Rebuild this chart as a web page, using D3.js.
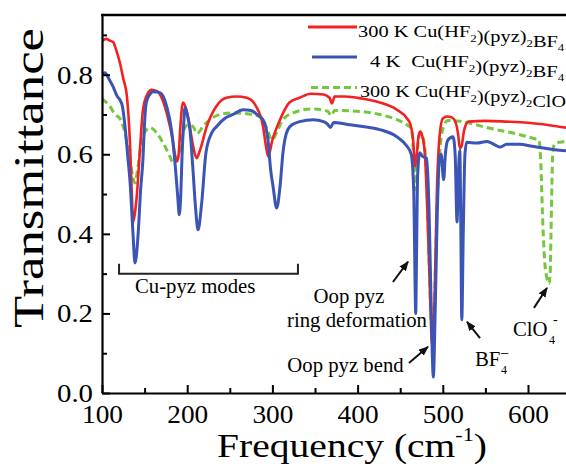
<!DOCTYPE html>
<html lang="en">
<head>
<meta charset="UTF-8">
<title>Far-IR transmittance of Cu(HF2)(pyz)2X</title>
<script src="https://cdn.jsdelivr.net/npm/d3@7/dist/d3.min.js"></script>
<style>
  body { margin: 0; background: #fff; }
  svg { display: block; }
  svg text { font-family: "Liberation Serif", "Times New Roman", Tinos, "Nimbus Roman", serif; }
</style>
</head>
<body>
<div id="chart"></div>
<script>
// spectra: [frequency cm-1, transmittance]
var red300BF4 = [[100,0.885],[105,0.89],[109,0.886],[113,0.882],[117,0.86],[121,0.83],[125,0.79],[129,0.75],[131,0.70],[133,0.62],[135,0.50],[136.5,0.43],[138.5,0.45],[141,0.50],[144.5,0.61],[148,0.71],[153,0.75],[158,0.762],[165,0.758],[171,0.737],[177,0.695],[183,0.636],[186,0.595],[188,0.582],[190,0.60],[192,0.67],[195,0.73],[199,0.712],[203,0.67],[207,0.62],[211,0.59],[215,0.61],[223,0.67],[234,0.72],[246,0.742],[258,0.745],[270,0.742],[281,0.72],[289,0.67],[292.5,0.62],[295,0.594],[300,0.636],[309,0.687],[320,0.73],[332,0.742],[345,0.752],[360,0.75],[367,0.742],[370,0.728],[373,0.745],[385,0.745],[405,0.74],[426,0.73],[446,0.712],[458,0.69],[462,0.675],[465,0.64],[467.5,0.57],[469.5,0.6],[471.5,0.645],[473.5,0.657],[476,0.645],[479,0.60],[482,0.45],[485,0.25],[487.5,0.12],[490.5,0.25],[493,0.5],[496,0.64],[500,0.69],[505,0.695],[511,0.692],[515,0.68],[518,0.65],[520,0.615],[522,0.62],[525,0.66],[530,0.682],[550,0.684],[575,0.682],[600,0.679],[625,0.673],[650,0.665]];

var blue4BF4 = [[100,0.80],[103.5,0.805],[108,0.79],[113,0.77],[118,0.745],[121,0.737],[124,0.72],[127,0.67],[130,0.60],[133,0.528],[136.4,0.40],[138.7,0.327],[141,0.36],[143,0.42],[145,0.50],[148,0.586],[150,0.68],[152,0.73],[156,0.75],[160,0.757],[168,0.755],[176,0.72],[182,0.654],[186,0.57],[189,0.49],[190.7,0.448],[192.5,0.5],[194,0.6],[196,0.68],[197.4,0.717],[200,0.70],[203.3,0.66],[206.8,0.56],[210,0.46],[212.7,0.41],[217,0.478],[222,0.604],[228.8,0.654],[234.6,0.67],[244,0.69],[253.8,0.70],[265.5,0.712],[275,0.71],[282,0.70],[289,0.687],[294.8,0.636],[298,0.56],[300.7,0.52],[305,0.465],[309,0.52],[312.4,0.604],[316,0.65],[320.7,0.67],[332,0.682],[348,0.687],[360,0.682],[365,0.675],[368,0.667],[372,0.68],[388,0.675],[406,0.67],[426,0.662],[446,0.644],[458,0.62],[463,0.60],[466,0.5],[467.3,0.3],[468.2,0.20],[469.2,0.35],[470.5,0.55],[473,0.604],[476,0.595],[481,0.59],[484,0.45],[486.5,0.2],[488.9,0.04],[491,0.2],[493.5,0.45],[496,0.59],[498,0.60],[501,0.536],[503,0.60],[506,0.636],[512,0.644],[514.5,0.60],[516.7,0.43],[518.5,0.56],[520,0.61],[521,0.45],[522.3,0.184],[524,0.4],[526,0.6],[528,0.63],[540,0.628],[552,0.632],[560,0.625],[567,0.618],[575,0.625],[590,0.625],[605,0.62],[620,0.615],[637,0.61],[650,0.608]];

var green300ClO4 = [[100,0.74],[101.5,0.737],[109.4,0.72],[115.3,0.70],[121,0.69],[124,0.675],[127,0.654],[130,0.62],[132.9,0.586],[136.4,0.54],[138.7,0.528],[142.3,0.57],[146.6,0.636],[152.5,0.662],[156.3,0.667],[164.2,0.654],[171.6,0.629],[179.8,0.594],[183.3,0.578],[189.2,0.594],[195,0.654],[200.9,0.674],[206.8,0.67],[211.5,0.652],[218.5,0.67],[226.8,0.687],[238.5,0.70],[253.8,0.704],[277.2,0.70],[289,0.687],[294.8,0.657],[299.5,0.636],[305.4,0.657],[312.4,0.687],[324.2,0.704],[347.7,0.714],[365,0.708],[369,0.697],[373,0.71],[406,0.707],[426,0.70],[446,0.687],[458,0.674],[463,0.665],[465.5,0.6],[467,0.51],[469,0.55],[471,0.63],[474,0.654],[477,0.64],[480,0.58],[483,0.4],[486,0.2],[488,0.15],[490,0.22],[493,0.45],[497,0.62],[501,0.67],[506,0.685],[520,0.683],[532,0.678],[550,0.668],[567,0.66],[585,0.652],[606,0.64],[613,0.635],[615,0.58],[617,0.45],[619,0.35],[622,0.29],[624.5,0.275],[626,0.3],[627,0.4],[628,0.52],[629,0.6],[631,0.625],[637,0.63],[650,0.632]];

// legend names, "_" marks a subscript
var seriesNames = [
  ["300 K ", "Cu(HF", "_2", ")(pyz)", "_2", "BF", "_4"],
  ["4 K", "Cu(HF", "_2", ")(pyz)", "_2", "BF", "_4"],
  ["300 K ", "Cu(HF", "_2", ")(pyz)", "_2", "ClO", "_4"]
];

var xTicks = [100, 200, 300, 400, 500, 600];
var xMinor = [150, 250, 350, 450, 550, 650];
var yTicks = [0, 0.2, 0.4, 0.6, 0.8];
var yMinor = [0.1, 0.3, 0.5, 0.7, 0.9];

// annotation anchors, in data units
var modeRange = [120, 330], modeLevel = 0.30;
var notes = [
  {text: "Cu-pyz modes", f: 138.7, t: 0.2515, anchor: "start"},
  {text: "Oop pyz", f: 389.9, t: 0.226, anchor: "middle"},
  {text: "ring deformation", f: 399.3, t: 0.166, anchor: "middle"},
  {text: "Oop pyz bend", f: 385.8, t: 0.053, anchor: "middle"}
];
var arrows = [
  [[441.5, 0.279], [459.2, 0.330]],
  [[460.3, 0.0755], [482.6, 0.116]],
  [[543.7, 0.138], [528.4, 0.179]],
  [[607, 0.214], [622.3, 0.264]]
];

var width = 566, height = 472;
var colors = ["#f22222", "#3a55b6", "#76c63e"];

var svg = d3.select("#chart").append("svg")
    .attr("width", width)
    .attr("height", height);

svg.append("rect").attr("width", width).attr("height", height).attr("fill", "#fff");

var x = d3.scaleLinear().domain([100, 650]).range([102, 570.6]);
var y = d3.scaleLinear().domain([0, 0.95]).range([393, 15]);

svg.append("clipPath").attr("id", "plotclip")
  .append("rect")
    .attr("x", x(100)).attr("y", y(0.95))
    .attr("width", x(650) - x(100)).attr("height", y(0) - y(0.95));

var line = d3.line()
    .x(function(d){ return x(d[0]); })
    .y(function(d){ return y(d[1]); })
    .curve(d3.curveMonotoneX);

var plot = svg.append("g").attr("clip-path", "url(#plotclip)");

plot.append("path").datum(green300ClO4)
    .attr("d", line).attr("fill", "none")
    .attr("stroke", colors[2]).attr("stroke-width", 3)
    .attr("stroke-dasharray", "7,4");

plot.append("path").datum(red300BF4)
    .attr("d", line).attr("fill", "none")
    .attr("stroke", colors[0]).attr("stroke-width", 2.6)
    .attr("stroke-linejoin", "round");

plot.append("path").datum(blue4BF4)
    .attr("d", line).attr("fill", "none")
    .attr("stroke", colors[1]).attr("stroke-width", 3)
    .attr("stroke-linejoin", "round");

// the original's lettering is a bit wider than the font, so texts are
// stretched sideways to the widths measured on the picture
function widthOf(sel) { return sel.node().getBBox().width; }

function stretch(sel, px, py, sx, extra) {
  sel.attr("transform", "translate(" + px + "," + py + ")" + (extra || "") + " scale(" + sx + ",1)");
  return sel;
}

function label(parent, size, anchor) {
  return parent.append("text")
      .attr("font-size", size)
      .attr("text-anchor", anchor || "start")
      .attr("fill", "#000");
}

// axes, ticks point inwards
function styleAxis(g) {
  g.attr("font-family", null);
  g.selectAll("path.domain").attr("stroke", "#000").attr("stroke-width", 2.2);
  g.selectAll(".tick line").attr("stroke", "#000").attr("stroke-width", 2);
  g.selectAll(".tick text").attr("fill", "#000").attr("font-size", 26);
}

var xAxis = svg.append("g")
    .attr("transform", "translate(0," + y(0) + ")")
    .call(d3.axisBottom(x).tickValues(xTicks).tickSizeInner(-8).tickSizeOuter(0).tickPadding(12)
      .tickFormat(d3.format("d")))
    .call(styleAxis);

svg.append("g")
    .attr("transform", "translate(0," + y(0) + ")")
    .call(d3.axisBottom(x).tickValues(xMinor).tickSize(-5).tickFormat(""))
    .call(styleAxis)
    .select("path.domain").remove();

var yAxis = svg.append("g")
    .attr("transform", "translate(" + x(100) + ",0)")
    .call(d3.axisLeft(y).tickValues(yTicks).tickSizeInner(-8).tickSizeOuter(0).tickPadding(9)
      .tickFormat(d3.format(".1f")))
    .call(styleAxis);

svg.append("g")
    .attr("transform", "translate(" + x(100) + ",0)")
    .call(d3.axisLeft(y).tickValues(yMinor).tickSize(-5).tickFormat(""))
    .call(styleAxis)
    .select("path.domain").remove();

var xs = 41 / widthOf(xAxis.select(".tick text"));
xAxis.selectAll(".tick text").attr("transform", "scale(" + xs + ",1)");
var ys = 36 / widthOf(yAxis.select(".tick text"));
yAxis.selectAll(".tick text").attr("x", -9 / ys).attr("transform", "scale(" + ys + ",1)");

svg.append("line")
    .attr("x1", x(100) - 1).attr("x2", x(650))
    .attr("y1", y(0.95)).attr("y2", y(0.95))
    .attr("stroke", "#000").attr("stroke-width", 2.4);

// axis titles
var xt = label(svg, 34, "middle");
xt.append("tspan").text("Frequency (cm");
xt.append("tspan").attr("font-size", 19).attr("dy", -16).text("-1");
xt.append("tspan").attr("dy", 16).text(")");
stretch(xt, 352, 457, 270 / widthOf(xt));

var yt = label(svg, 43, "middle").text("Transmittance");
stretch(yt, 43, 178, 300 / widthOf(yt), " rotate(-90)");

// legend
var legendBase = [36.5, 66.5, 97];
var legendStart = [358, 370, 360];
var legendLen = [49, 45, 46];
var legendWidth = [207, 195, 213];
seriesNames.forEach(function(parts, i) {
  var ly = legendBase[i] - 9.5;
  svg.append("line")
      .attr("x1", 357 - legendLen[i]).attr("x2", 357)
      .attr("y1", ly).attr("y2", ly)
      .attr("stroke", colors[i]).attr("stroke-width", 3)
      .attr("stroke-dasharray", i === 2 ? "7,4" : null);
  var t = label(svg, 17.5, "start").attr("xml:space", "preserve");
  parts.forEach(function(p, j) {
    if (p[0] === "_") {
      t.append("tspan").attr("font-size", 11).attr("dy", 5).text(p.slice(1));
      t.append("tspan").attr("dy", -5).text("");
    } else {
      var s = t.append("tspan").text(p);
      if (i === 1 && j === 1) s.attr("dx", 9);
    }
  });
  stretch(t, legendStart[i], legendBase[i], legendWidth[i] / widthOf(t));
});

// annotations
svg.append("path")
    .attr("d", "M" + x(modeRange[0]) + "," + (y(modeLevel) - 10) +
               "V" + y(modeLevel) + "H" + x(modeRange[1]) + "V" + (y(modeLevel) - 10))
    .attr("fill", "none").attr("stroke", "#222").attr("stroke-width", 2);

var noteEls = notes.map(function(n) { return label(svg, 20, n.anchor).text(n.text); });
var noteScale = 140 / widthOf(noteEls[2]);
noteEls.forEach(function(el, i) {
  stretch(el, x(notes[i].f), y(notes[i].t), noteScale);
});

stretch(label(svg, 20).text("BF"), x(537.8), y(0.068), noteScale);
stretch(label(svg, 12).text("4"), 501, 374, 1);
stretch(label(svg, 16).text("\u2212"), 500, 359, 1);
stretch(label(svg, 20).text("ClO"), x(582.4), y(0.143), noteScale);
stretch(label(svg, 12).text("4"), 549, 344, 1);
stretch(label(svg, 14).text("-"), 553, 324, 1);

var defs = svg.append("defs");
defs.append("marker")
    .attr("id", "head")
    .attr("markerUnits", "userSpaceOnUse")
    .attr("markerWidth", 10).attr("markerHeight", 8)
    .attr("refX", 9).attr("refY", 4)
    .attr("orient", "auto")
  .append("path").attr("d", "M0,0L10,4L0,8Z").attr("fill", "#111");

arrows.forEach(function(a) {
  svg.append("line")
      .attr("x1", x(a[0][0])).attr("y1", y(a[0][1]))
      .attr("x2", x(a[1][0])).attr("y2", y(a[1][1]))
      .attr("stroke", "#111").attr("stroke-width", 2)
      .attr("marker-end", "url(#head)");
});
</script>
</body>
</html>
